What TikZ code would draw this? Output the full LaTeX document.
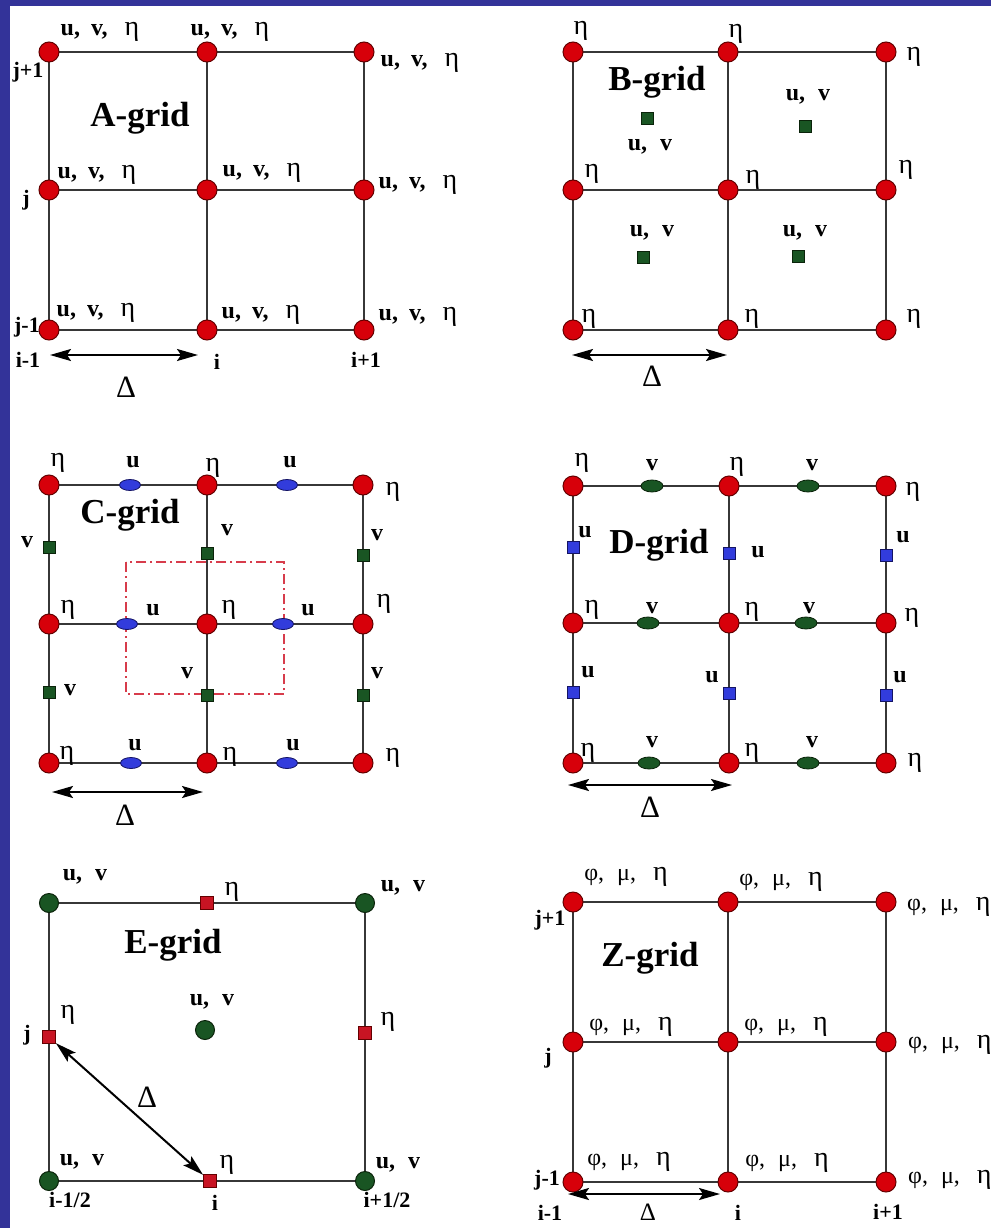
\documentclass[tikz,border=0pt]{standalone}
\usepackage{fontspec}
\setmainfont{Liberation Serif}
\usetikzlibrary{shapes.geometric,arrows.meta}
\pgfdeclarelayer{paper}
\pgfdeclarelayer{bg}
\pgfsetlayers{paper,bg,main}

\definecolor{frameblue}{RGB}{51,51,153}
\definecolor{dotred}{RGB}{215,0,10}
\definecolor{dotredline}{RGB}{100,0,0}
\definecolor{gline}{RGB}{55,55,55}
\definecolor{ublue}{RGB}{50,60,220}
\definecolor{ubluel}{RGB}{20,20,100}
\definecolor{vgreen}{RGB}{25,85,35}
\definecolor{vgreenl}{RGB}{10,35,10}
\definecolor{sqred}{RGB}{200,20,35}
\definecolor{rectred}{RGB}{215,60,75}

\newcommand{\et}{{\fontsize{28}{28}\selectfont η}}
\newcommand{\uvh}{\textbf{u,}\hspace{11pt}\textbf{v,}\hspace{17pt}\et}
\newcommand{\uvl}{\textbf{u,}\hspace{13pt}\textbf{v}}
\newcommand{\pmh}{φ,\hspace{13pt}μ,\hspace{17pt}\et}

\tikzset{
 reddot/.style={circle, fill=dotred, draw=dotredline, line width=1pt, minimum size=20pt, inner sep=0pt},
 grndot/.style={circle, fill=vgreen, draw=vgreenl, line width=1pt, minimum size=19pt, inner sep=0pt},
 uell/.style={ellipse, fill=ublue, draw=ubluel, line width=0.8pt, minimum width=21pt, minimum height=11pt, inner sep=0pt},
 vell/.style={ellipse, fill=vgreen, draw=vgreenl, line width=0.8pt, minimum width=22pt, minimum height=12pt, inner sep=0pt},
 gsq/.style={rectangle, fill=vgreen, draw=vgreenl, line width=0.8pt, minimum size=12pt, inner sep=0pt},
 bsq/.style={rectangle, fill=ublue, draw=ubluel, line width=0.8pt, minimum size=12pt, inner sep=0pt},
 rsq/.style={rectangle, fill=sqred, draw=dotredline, line width=0.8pt, minimum size=13pt, inner sep=0pt},
 gridline/.style={draw=gline, line width=2pt},
 darrow/.style={line width=2pt, {Stealth[length=21pt,width=12pt,inset=4pt]}-{Stealth[length=21pt,width=12pt,inset=4pt]}},
 lbl/.style={inner sep=0pt, font=\fontsize{24}{26}\selectfont},
 blbl/.style={inner sep=0pt, font=\bfseries\fontsize{24}{26}\selectfont},
 idx/.style={inner sep=0pt, font=\bfseries\fontsize{22}{23}\selectfont},
 ttl/.style={inner sep=0pt, font=\bfseries\fontsize{35}{37}\selectfont},
 dlt/.style={inner sep=0pt, font=\fontsize{31}{32}\selectfont},
 dashrect/.style={draw=rectred, line width=1.5pt, dash pattern=on 10pt off 4pt on 2pt off 4pt},
}

\newcommand{\mkgrid}[8]{%
  \foreach \c/\xx in {1/#3,2/#4,3/#5}{%
    \foreach \r/\yy in {1/#6,2/#7,3/#8}{%
      \node[#2] (#1-\c-\r) at (\xx,\yy) {};
    }}%
  \begin{pgfonlayer}{bg}
   \foreach \k in {1,2,3}{%
     \draw[gridline] (#1-1-\k.center) -- (#1-2-\k.center) -- (#1-3-\k.center);
     \draw[gridline] (#1-\k-1.center) -- (#1-\k-2.center) -- (#1-\k-3.center);
   }
  \end{pgfonlayer}}

\begin{document}
\begin{tikzpicture}[x=1pt,y=-1pt]
\useasboundingbox (0,0) rectangle (991,1228);
\begin{pgfonlayer}{paper}
 \fill[white] (0,0) rectangle (991,1228);
 \fill[frameblue] (0,0) rectangle (10,1228);
 \fill[frameblue] (0,0) rectangle (991,6);
\end{pgfonlayer}
\clip (0,0) rectangle (991,1228);

% ---------------- A-grid ----------------
\mkgrid{a}{reddot}{49}{207}{364}{52}{190}{330}
\node[lbl] (a-l11) at (100,32) {\uvh};
\node[lbl] (a-l21) at (230,32) {\uvh};
\node[lbl] (a-l31) at (420,63) {\uvh};
\node[lbl] (a-l12) at (97,175) {\uvh};
\node[lbl] (a-l22) at (262,173) {\uvh};
\node[lbl] (a-l32) at (418,185) {\uvh};
\node[lbl] (a-l13) at (96,313) {\uvh};
\node[lbl] (a-l23) at (261,315) {\uvh};
\node[lbl] (a-l33) at (418,317) {\uvh};
\node[idx] (a-j1) at (28,72) {j+1};
\node[idx] (a-j) at (26,200) {j};
\node[idx] (a-j0) at (27,327) {j-1};
\node[idx] (a-i0) at (28,360) {i-1};
\node[idx] (a-i) at (217,362) {i};
\node[idx] (a-i1) at (366,360) {i+1};
\node[ttl] (a-t) at (140,118) {A-grid};
\coordinate (a-aL) at (50,355);
\coordinate (a-aR) at (198,355);
\draw[darrow] (a-aL) -- (a-aR);
\node[dlt] (a-d) at (126,387) {Δ};

% ---------------- B-grid ----------------
\mkgrid{b}{reddot}{573}{728}{886}{52}{190}{330}
\node[lbl] (b-e11) at (581,31) {\et};
\node[lbl] (b-e21) at (736,34) {\et};
\node[lbl] (b-e31) at (914,57) {\et};
\node[lbl] (b-e12) at (592,174) {\et};
\node[lbl] (b-e22) at (753,180) {\et};
\node[lbl] (b-e32) at (906,170) {\et};
\node[lbl] (b-e13) at (589,319) {\et};
\node[lbl] (b-e23) at (752,319) {\et};
\node[lbl] (b-e33) at (914,319) {\et};
\node[gsq] (b-s1) at (647,118) {};
\node[gsq] (b-s2) at (805,126) {};
\node[gsq] (b-s3) at (643,257) {};
\node[gsq] (b-s4) at (798,256) {};
\node[lbl] (b-u1) at (650,147) {\uvl};
\node[lbl] (b-u2) at (808,97) {\uvl};
\node[lbl] (b-u3) at (652,233) {\uvl};
\node[lbl] (b-u4) at (805,233) {\uvl};
\node[ttl] (b-t) at (657,82) {B-grid};
\coordinate (b-aL) at (572,355);
\coordinate (b-aR) at (727,355);
\draw[darrow] (b-aL) -- (b-aR);
\node[dlt] (b-d) at (652,376) {Δ};

% ---------------- C-grid ----------------
\begin{pgfonlayer}{bg}
\coordinate (c-r1) at (126,562);
\coordinate (c-r2) at (284,694);
\draw[dashrect] (c-r1) rectangle (c-r2);
\end{pgfonlayer}
\mkgrid{c}{reddot}{49}{207}{363}{485}{624}{763}
\node[lbl] (c-e11) at (58,463) {\et};
\node[lbl] (c-e21) at (213,468) {\et};
\node[lbl] (c-e31) at (393,492) {\et};
\node[lbl] (c-e12) at (68,610) {\et};
\node[lbl] (c-e22) at (229,610) {\et};
\node[lbl] (c-e32) at (384,604) {\et};
\node[lbl] (c-e13) at (67,756) {\et};
\node[lbl] (c-e23) at (230,757) {\et};
\node[lbl] (c-e33) at (393,758) {\et};
\node[uell] (c-u1) at (130,485) {};
\node[uell] (c-u2) at (287,485) {};
\node[uell] (c-u3) at (127,624) {};
\node[uell] (c-u4) at (283,624) {};
\node[uell] (c-u5) at (131,763) {};
\node[uell] (c-u6) at (287,763) {};
\node[blbl] (c-ul1) at (133,462) {u};
\node[blbl] (c-ul2) at (290,462) {u};
\node[blbl] (c-ul3) at (153,610) {u};
\node[blbl] (c-ul4) at (308,610) {u};
\node[blbl] (c-ul5) at (135,745) {u};
\node[blbl] (c-ul6) at (293,745) {u};
\node[gsq] (c-v1) at (49,547) {};
\node[gsq] (c-v2) at (49,692) {};
\node[gsq] (c-v3) at (207,553) {};
\node[gsq] (c-v4) at (207,695) {};
\node[gsq] (c-v5) at (363,555) {};
\node[gsq] (c-v6) at (363,695) {};
\node[blbl] (c-vl1) at (27,542) {v};
\node[blbl] (c-vl2) at (70,690) {v};
\node[blbl] (c-vl3) at (227,530) {v};
\node[blbl] (c-vl4) at (187,673) {v};
\node[blbl] (c-vl5) at (377,535) {v};
\node[blbl] (c-vl6) at (377,673) {v};
\node[ttl] (c-t) at (130,515) {C-grid};
\coordinate (c-aL) at (52,792);
\coordinate (c-aR) at (203,792);
\draw[darrow] (c-aL) -- (c-aR);
\node[dlt] (c-d) at (125,815) {Δ};

% ---------------- D-grid ----------------
\mkgrid{d}{reddot}{573}{729}{886}{486}{623}{763}
\node[lbl] (d-e11) at (582,463) {\et};
\node[lbl] (d-e21) at (737,467) {\et};
\node[lbl] (d-e31) at (913,492) {\et};
\node[lbl] (d-e12) at (592,610) {\et};
\node[lbl] (d-e22) at (752,612) {\et};
\node[lbl] (d-e32) at (912,618) {\et};
\node[lbl] (d-e13) at (588,753) {\et};
\node[lbl] (d-e23) at (752,753) {\et};
\node[lbl] (d-e33) at (915,763) {\et};
\node[vell] (d-v1) at (652,486) {};
\node[vell] (d-v2) at (808,486) {};
\node[vell] (d-v3) at (648,623) {};
\node[vell] (d-v4) at (806,623) {};
\node[vell] (d-v5) at (649,763) {};
\node[vell] (d-v6) at (808,763) {};
\node[blbl] (d-vl1) at (652,465) {v};
\node[blbl] (d-vl2) at (812,465) {v};
\node[blbl] (d-vl3) at (652,608) {v};
\node[blbl] (d-vl4) at (809,608) {v};
\node[blbl] (d-vl5) at (652,742) {v};
\node[blbl] (d-vl6) at (812,742) {v};
\node[bsq] (d-u1) at (573,547) {};
\node[bsq] (d-u2) at (573,692) {};
\node[bsq] (d-u3) at (729,553) {};
\node[bsq] (d-u4) at (729,693) {};
\node[bsq] (d-u5) at (886,555) {};
\node[bsq] (d-u6) at (886,695) {};
\node[blbl] (d-ul1) at (585,532) {u};
\node[blbl] (d-ul2) at (588,672) {u};
\node[blbl] (d-ul3) at (758,552) {u};
\node[blbl] (d-ul4) at (712,677) {u};
\node[blbl] (d-ul5) at (903,537) {u};
\node[blbl] (d-ul6) at (900,677) {u};
\node[ttl] (d-t) at (659,545) {D-grid};
\coordinate (d-aL) at (568,785);
\coordinate (d-aR) at (732,785);
\draw[darrow] (d-aL) -- (d-aR);
\node[dlt] (d-d) at (650,807) {Δ};

% ---------------- E-grid ----------------
\node[grndot] (e-1-1) at (49,903) {};
\node[grndot] (e-3-1) at (365,903) {};
\node[grndot] (e-1-3) at (49,1181) {};
\node[grndot] (e-3-3) at (365,1181) {};
\node[rsq] (e-2-1) at (207,903) {};
\node[rsq] (e-1-2) at (49,1037) {};
\node[rsq] (e-3-2) at (365,1033) {};
\node[rsq] (e-2-3) at (210,1181) {};
\node[grndot] (e-c) at (205,1030) {};
\begin{pgfonlayer}{bg}
\draw[gridline] (e-1-1.center) -- (e-2-1.center) -- (e-3-1.center) -- (e-3-2.center) -- (e-3-3.center) -- (e-2-3.center) -- (e-1-3.center) -- (e-1-2.center) -- (e-1-1.center);
\end{pgfonlayer}
\draw[darrow] (e-1-2) -- (e-2-3);
\node[lbl] (e-u1) at (85,877) {\uvl};
\node[lbl] (e-u2) at (403,888) {\uvl};
\node[lbl] (e-u3) at (212,1002) {\uvl};
\node[lbl] (e-u4) at (82,1162) {\uvl};
\node[lbl] (e-u5) at (398,1165) {\uvl};
\node[lbl] (e-e1) at (232,892) {\et};
\node[lbl] (e-e2) at (68,1015) {\et};
\node[lbl] (e-e3) at (388,1022) {\et};
\node[lbl] (e-e4) at (227,1165) {\et};
\node[idx] (e-j) at (27,1035) {j};
\node[idx] (e-i0) at (70,1200) {i-1/2};
\node[idx] (e-i) at (215,1203) {i};
\node[idx] (e-i1) at (387,1200) {i+1/2};
\node[ttl] (e-t) at (173,945) {E-grid};
\node[dlt] (e-d) at (147,1097) {Δ};

% ---------------- Z-grid ----------------
\mkgrid{z}{reddot}{573}{728}{886}{902}{1042}{1182}
\node[lbl] (z-l11) at (626,877) {\pmh};
\node[lbl] (z-l21) at (781,882) {\pmh};
\node[lbl,anchor=west] (z-l31) at (907,907) {\pmh};
\node[lbl] (z-l12) at (631,1027) {\pmh};
\node[lbl] (z-l22) at (786,1027) {\pmh};
\node[lbl,anchor=west] (z-l32) at (908,1045) {\pmh};
\node[lbl] (z-l13) at (629,1162) {\pmh};
\node[lbl] (z-l23) at (787,1163) {\pmh};
\node[lbl,anchor=west] (z-l33) at (908,1180) {\pmh};
\node[idx] (z-j1) at (550,920) {j+1};
\node[idx] (z-j) at (548,1058) {j};
\node[idx] (z-j0) at (547,1180) {j-1};
\node[idx] (z-i0) at (550,1213) {i-1};
\node[idx] (z-i) at (738,1213) {i};
\node[idx] (z-i1) at (888,1212) {i+1};
\node[ttl] (z-t) at (650,958) {Z-grid};
\coordinate (z-aL) at (568,1194);
\coordinate (z-aR) at (720,1194);
\draw[darrow] (z-aL) -- (z-aR);
\node[dlt,font=\fontsize{25}{26}\selectfont] (z-d) at (648,1212) {Δ};
\end{tikzpicture}
\end{document}
